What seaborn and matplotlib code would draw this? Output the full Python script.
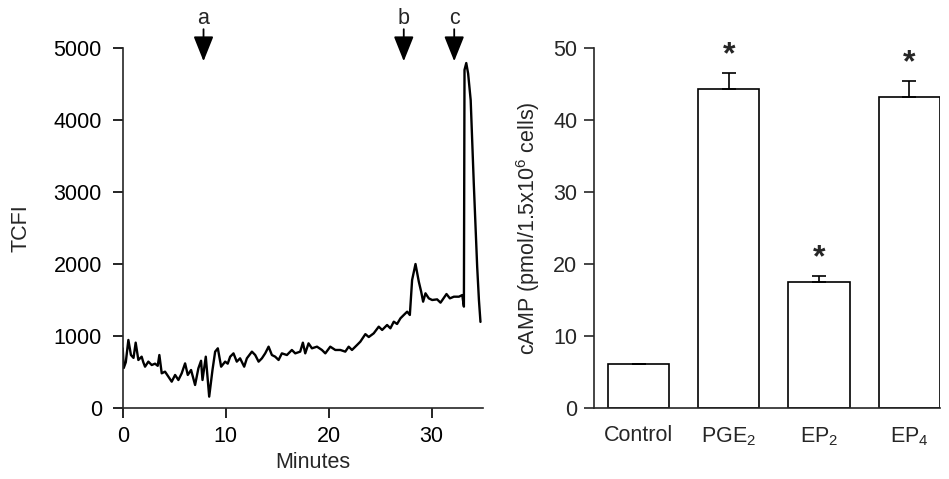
import numpy as np
import pandas as pd
import matplotlib
matplotlib.use("Agg")
import matplotlib.pyplot as plt
import seaborn as sns

# left panel: TCFI trace
minutes = [0.0, 0.1, 0.3, 0.55, 0.8, 1.05, 1.26, 1.52, 1.84, 2.0, 2.17, 2.49, 2.82,
           3.14, 3.4, 3.56, 3.79, 4.11, 4.44, 4.76, 5.09, 5.41, 5.73, 6.06, 6.32,
           6.64, 7.03, 7.35, 7.61, 7.75, 8.07, 8.40, 8.72, 8.98, 9.24, 9.56, 9.95,
           10.2, 10.44, 10.76, 11.08, 11.4, 11.8, 12.06, 12.55, 12.87, 13.2, 13.52,
           13.84, 14.17, 14.49, 14.81, 15.14, 15.46, 15.95, 16.43, 16.76, 17.24,
           17.5, 17.73, 18.05, 18.38, 18.87, 19.35, 19.68, 20.16, 20.65, 21.14,
           21.62, 21.95, 22.27, 22.76, 23.08, 23.57, 23.9, 24.38, 24.87, 25.2,
           25.68, 26.0, 26.33, 26.65, 26.98, 27.3, 27.63, 27.89, 28.11, 28.44,
           28.76, 28.99, 29.18, 29.41, 29.73, 30.06, 30.54, 30.87, 31.45, 31.78,
           32.17, 32.66, 32.98, 33.14, 33.2, 33.37, 33.55, 33.8, 34.1, 34.43,
           34.6, 34.75]
tcfi = [833, 560, 640, 949, 740, 700, 912, 671, 717, 640, 578, 648, 601,
        620, 590, 740, 486, 509, 439, 370, 463, 393, 486, 624, 463,
        532, 324, 555, 660, 393, 717, 162, 532, 787, 833, 578, 648,
        620, 717, 763, 648, 694, 578, 694, 787, 740, 648, 694,
        763, 856, 740, 717, 671, 763, 740, 810, 763, 787,
        912, 763, 902, 833, 856, 810, 763, 856, 810, 810,
        787, 856, 810, 879, 925, 1030, 990, 1041, 1134, 1088,
        1157, 1111, 1203, 1171, 1250, 1296, 1342, 1296, 1782, 2004,
        1759, 1620, 1481, 1597, 1527, 1504, 1513, 1467, 1587, 1527,
        1550, 1550, 1573, 1412, 4700, 4795, 4650, 4280, 3125, 1967,
        1504, 1200]
arrow_labels = ["a", "b", "c"]
arrow_times = [7.85, 27.3, 32.2]

# right panel: cAMP bars
groups = ["Control", "PGE$_2$", "EP$_2$", "EP$_4$"]
camp = [6.2, 44.4, 17.5, 43.3]
camp_err = [0.0, 2.2, 0.9, 2.2]
significant = [False, True, True, True]

sns.set_style("ticks")
plt.rcParams["font.family"] = ["Liberation Sans", "DejaVu Sans"]
plt.rcParams["mathtext.fontset"] = "custom"
plt.rcParams["mathtext.rm"] = "Liberation Sans"
plt.rcParams["mathtext.it"] = "Liberation Sans:italic"
plt.rcParams["axes.linewidth"] = 1.2
fs = 15.5

fig = plt.figure(figsize=(9.49, 4.79), dpi=100)
ax1 = fig.add_axes([0.1293, 0.1476, 0.3797, 0.7516])
ax2 = fig.add_axes([0.6259, 0.1476, 0.3646, 0.7516])

trace = pd.DataFrame({"Minutes": minutes, "TCFI": tcfi})
sns.lineplot(data=trace, x="Minutes", y="TCFI", ax=ax1, color="black",
             lw=1.7, sort=False, estimator=None)
ax1.set_xlim(0, 35)
ax1.set_ylim(0, 5000)
ax1.set_xticks([0, 10, 20, 30])
ax1.set_yticks([0, 1000, 2000, 3000, 4000, 5000])
ax1.set_xlabel("Minutes", fontsize=fs)
ax1.set_ylabel("TCFI", fontsize=fs)
ax1.xaxis.set_label_coords(0.527, -0.12)
ax1.yaxis.set_label_coords(-0.252, 0.5)
ax1.tick_params(direction="out", length=7, width=1.2, labelsize=fs, colors="black")
ax1.tick_params(axis="y", pad=8)
ax1.tick_params(axis="x", pad=6)
sns.despine(ax=ax1)

# stimulus arrows above the trace
for lab, t in zip(arrow_labels, arrow_times):
    ax1.text(t, 5420, lab, ha="center", va="center", fontsize=fs, clip_on=False)
    ax1.annotate("", xy=(t, 4820), xytext=(t, 5265), annotation_clip=False,
                 arrowprops=dict(arrowstyle="-|>,head_length=1.0,head_width=0.4",
                                 mutation_scale=fs, color="black", lw=1.3,
                                 shrinkA=0, shrinkB=0))

bars = pd.DataFrame({"group": groups, "cAMP": camp})
sns.barplot(data=bars, x="group", y="cAMP", ax=ax2, color="white",
            edgecolor="black", linewidth=1.2, width=0.68, errorbar=None)
xs = np.arange(len(groups))
ax2.errorbar(xs, camp, yerr=[np.zeros(len(camp)), camp_err], fmt="none",
             ecolor="black", elinewidth=1.2, capsize=4.8, capthick=1.2)
for x, m, e, sig in zip(xs, camp, camp_err, significant):
    if sig:
        ax2.annotate("*", xy=(x, m + e), xytext=(0, 7), textcoords="offset points",
                     ha="center", va="baseline", fontsize=23, fontweight="bold",
                     annotation_clip=False)
ax2.set_xlim(-0.494, 3.34)
ax2.set_ylim(0, 50)
ax2.set_yticks([0, 10, 20, 30, 40, 50])
ax2.set_xticks(xs, groups)
ax2.set_xlabel("")
ax2.set_ylabel("cAMP (pmol/1.5x10$^6$ cells)", fontsize=fs)
ax2.yaxis.set_label_coords(-0.150, 0.5)
ax2.tick_params(axis="y", direction="out", length=7, width=1.2, labelsize=fs, pad=5)
ax2.tick_params(axis="x", length=0, labelsize=fs, pad=12)
sns.despine(ax=ax2)

fig.savefig("out.png", dpi=100)
